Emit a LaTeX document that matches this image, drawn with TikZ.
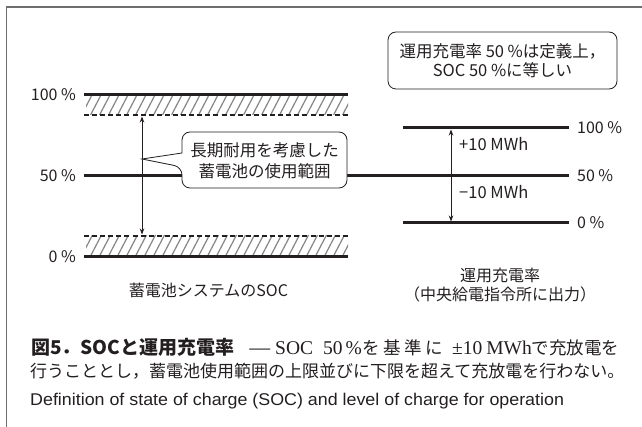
\documentclass[tikz,border=0pt]{standalone}
\usepackage{fontspec}
\setmainfont{Noto Sans CJK JP}
\newfontfamily\latsans{Liberation Sans}
\newfontfamily\latserif{Liberation Serif}
\usetikzlibrary{arrows.meta}
\definecolor{ink}{HTML}{231F20}
\definecolor{hatchgray}{HTML}{858585}
\definecolor{framegray}{HTML}{6E6E6E}
\begin{document}
\begin{tikzpicture}[x=1pt,y=-1pt,
  level/.style={line width=3pt, draw=ink},
  limitline/.style={line width=2.2pt, draw=ink, dash pattern=on 5pt off 3.09pt},
  hatchline/.style={line width=1.2pt, draw=hatchgray},
  dimarrow/.style={line width=0.8pt, draw=ink, {Stealth[length=6pt,width=4.5pt]}-{Stealth[length=6pt,width=4.5pt]}},
  lbl/.style={text=ink, font=\fontsize{16}{19}\selectfont, inner sep=0pt},
  boxline/.style={line width=0.8pt, draw=ink},
  captxt/.style={text=ink, inner sep=0pt, anchor=west},
  capbase/.style={text=ink, inner sep=0pt, anchor=base west, font=\fontsize{17.5}{20}\selectfont},
]
\useasboundingbox (0,0) rectangle (642,427);
% frame
\coordinate (frbl) at (6.5,427);
\coordinate (frtl) at (6.5,7);
\coordinate (frtr) at (642,7);
\draw[framegray, line width=1.2pt] (frbl) -- (frtl) -- (frtr);

% ---------- left: SOC of battery system ----------
\coordinate (s100a) at (84,95);   \coordinate (s100b) at (348,95);
\coordinate (sup a) at (84,115);  \coordinate (sup b) at (348,115);
\coordinate (s50a)  at (84,176);  \coordinate (s50b)  at (569,176);
\coordinate (slo a) at (84,236);  \coordinate (slo b) at (348,236);
\coordinate (s0a)   at (84,257);  \coordinate (s0b)   at (348,257);

\begin{scope}
  \clip (86,95) rectangle (348,115);
  \foreach \x in {62,71,...,356} \draw[hatchline] (\x,118) -- ++(13,-25);
\end{scope}
\begin{scope}
  \clip (86,236) rectangle (348,257);
  \foreach \x in {62,71,...,356} \draw[hatchline] (\x,259) -- ++(13,-25);
\end{scope}

\draw[level] (s100a) -- (s100b);
\draw[level] (s0a) -- (s0b);
\draw[limitline] (sup a) -- (sup b);
\draw[limitline] (slo a) -- (slo b);
\draw[level] (s50a) -- (s50b);

\node[lbl, anchor=east] (t100) at (76,95) {100\hspace{0.22em}\%};
\node[lbl, anchor=east] (t50)  at (76,176) {50\hspace{0.22em}\%};
\node[lbl, anchor=east] (t0)   at (76,257) {0\hspace{0.22em}\%};

\coordinate (arrtop) at (142,116.5);
\coordinate (arrbot) at (142,234.5);
\draw[dimarrow] (arrtop) -- (arrbot);

% callout
\coordinate (ptip) at (142,159);
\draw[boxline, fill=white] (182,153) [rounded corners=8pt] -- (182,132) -- (347,132) -- (347,188) -- (182,188) -- (182,167) [sharp corners] -- (ptip) -- cycle;
\node[lbl, align=center, font=\fontsize{16.5}{21}\selectfont] (range) at (264.5,160.5) {長期耐用を考慮した\\蓄電池の使用範囲};

\node[lbl, font=\fontsize{16}{19}\selectfont] (soclabel) at (208.5,290) {蓄電池システムのSOC};

% ---------- right: operational charge rate ----------
\coordinate (r100a) at (403,128); \coordinate (r100b) at (569,128);
\coordinate (r0a)   at (403,223); \coordinate (r0b)   at (569,223);
\draw[level] (r100a) -- (r100b);
\draw[level] (r0a) -- (r0b);

\node[lbl, anchor=west] (rt100) at (577,128) {100\hspace{0.22em}\%};
\node[lbl, anchor=west] (rt50)  at (577,176) {50\hspace{0.22em}\%};
\node[lbl, anchor=west] (rt0)   at (577,223) {0\hspace{0.22em}\%};

\coordinate (rarrtop) at (451,129.5);
\coordinate (rarrbot) at (451,221.5);
\draw[dimarrow] (rarrtop) -- (rarrbot);
\node[lbl, anchor=west, font=\fontsize{16.5}{19}\selectfont] (plus)  at (459,144) {+10 MWh};
\node[lbl, anchor=west, font=\fontsize{16.5}{19}\selectfont] (minus) at (459,192) {−10 MWh};

\node[boxline, rounded corners=8pt, minimum width=229pt, minimum height=57pt, inner sep=0pt] (defbox) at (502.5,60.5) {};
\node[lbl, align=center, font=\fontsize{16.5}{19}\selectfont] (deftext) at (defbox.center) {運用充電率 50\hspace{0.22em}\%は定義上，\\SOC 50\hspace{0.22em}\%に等しい};

\node[lbl, align=center, font=\fontsize{16}{19}\selectfont] (oplabel) at (500,285.5) {運用充電率\\（中央給電指令所に出力）};

% ---------- caption ----------
\node[capbase, font=\bfseries\fontsize{19}{20}\selectfont] (cap1a) at (31,354.5) {図5．SOCと運用充電率};
\node[capbase] (cap1b) at (248,354.5) {\scalebox{1.5}[1]{—}};
\node[capbase] (cap1c) at (275,354.5) {{\latserif\fontsize{19.5}{20}\selectfont SOC\hspace{10pt}50\hspace{3pt}\%}\hspace{1pt}\makebox[80pt][s]{を\hfill 基\hfill 準\hfill に}};
\node[capbase] (cap1d) at (452,354.5) {{\latserif\fontsize{19.5}{20}\selectfont ±10\hspace{4pt}MWh}で充放電を};
\node[captxt, font=\fontsize{17}{20}\selectfont] (cap2) at (30,371) {行うこととし，蓄電池使用範囲の上限並びに下限を超えて充放電を行わない。};
\node[captxt, font=\latsans\fontsize{17}{20}\selectfont] (cap3) at (30,401) {\scalebox{1.05}[1]{Definition of state of charge (SOC) and level of charge for operation}};
\end{tikzpicture}
\end{document}
